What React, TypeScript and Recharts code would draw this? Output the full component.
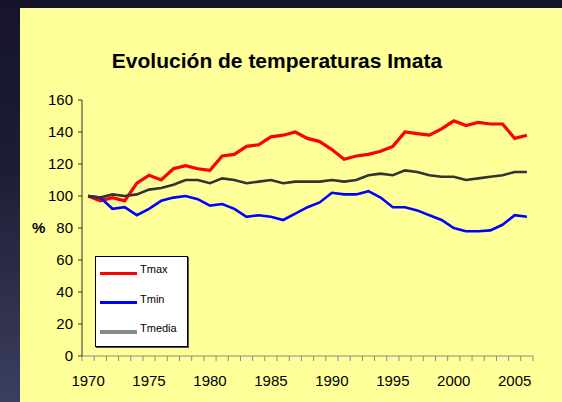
import React from 'react';
import { LineChart, Line, XAxis, YAxis, Legend } from 'recharts';

const years = [
  1970, 1971, 1972, 1973, 1974, 1975, 1976, 1977, 1978, 1979,
  1980, 1981, 1982, 1983, 1984, 1985, 1986, 1987, 1988, 1989,
  1990, 1991, 1992, 1993, 1994, 1995, 1996, 1997, 1998, 1999,
  2000, 2001, 2002, 2003, 2004, 2005, 2006,
];
const tmax = [
  100, 97, 99, 97, 108, 113, 110, 117, 119, 117,
  116, 125, 126, 131, 132, 137, 138, 140, 136, 134,
  129, 123, 125, 126, 128, 131, 140, 139, 138, 142,
  147, 144, 146, 145, 145, 136, 138,
];
const tmin = [
  100, 99, 92, 93, 88, 92, 97, 99, 100, 98,
  94, 95, 92, 87, 88, 87, 85, 89, 93, 96,
  102, 101, 101, 103, 99, 93, 93, 91, 88, 85,
  80, 78, 78, 78.5, 82, 88, 87,
];
const tmedia = [
  100, 99, 101, 100, 101, 104, 105, 107, 110, 110,
  108, 111, 110, 108, 109, 110, 108, 109, 109, 109,
  110, 109, 110, 113, 114, 113, 116, 115, 113, 112,
  112, 110, 111, 112, 113, 115, 115,
];
const yTicks = [0, 20, 40, 60, 80, 100, 120, 140, 160];
const labelYears = [1970, 1975, 1980, 1985, 1990, 1995, 2000, 2005];
const seriesNames = ['Tmax', 'Tmin', 'Tmedia'];
const title = 'Evolución de temperaturas Imata';

const data = years.map((y, i) => ({ year: y, Tmax: tmax[i], Tmin: tmin[i], Tmedia: tmedia[i] }));
const boundaryTicks = [...years.map((y) => y - 0.5), years[years.length - 1] + 0.5];

const legendStyles: Record<string, { color: string; width: number }> = {
  Tmax: { color: '#ff0000', width: 3 },
  Tmin: { color: '#0000ff', width: 3 },
  Tmedia: { color: '#888888', width: 4 },
};

const FONT = '"Liberation Sans", Arial, sans-serif';

const LegendBox = (props: any) => {
  const payload = props.payload || [];
  const ordered = seriesNames
    .map((n) => payload.find((p: any) => p.value === n))
    .filter(Boolean);
  return (
    <div
      style={{
        width: 91,
        height: 89,
        background: '#ffffff',
        border: '1px solid #000',
        boxShadow: '1px 1px 0 #555',
        fontFamily: FONT,
        fontSize: 11,
        color: '#000',
      }}
    >
      {ordered.map((p: any) => {
        const st = legendStyles[p.value] || { color: p.color, width: 3 };
        return (
          <div key={p.value} style={{ height: 29.6, position: 'relative' }}>
            <div
              style={{
                position: 'absolute',
                left: 4,
                top: 15 - st.width / 2 + 1,
                width: 37,
                height: st.width,
                background: st.color,
              }}
            />
            <span style={{ position: 'absolute', left: 44, top: 6, lineHeight: '13px' }}>{p.value}</span>
          </div>
        );
      })}
    </div>
  );
};

const YearTick = (props: any) => {
  const { x, y, payload, width } = props;
  const year = payload.value + 0.5;
  if (!labelYears.includes(year)) return null;
  const half = width / years.length / 2;
  return (
    <text x={x + half} y={y} dy="0.71em" textAnchor="middle" fill="#000" fontSize={15} fontFamily={FONT}>
      {year}
    </text>
  );
};

export default function App() {
  return (
    <div
      style={{
        position: 'absolute',
        left: 0,
        top: 0,
        width: 562,
        height: 402,
        overflow: 'hidden',
        background: 'linear-gradient(to bottom, #15142a 0%, #1c1c34 40%, #3b3e5e 100%)',
        fontFamily: FONT,
      }}
    >
      <div style={{ position: 'absolute', left: 20, top: 8, width: 542, height: 394, background: '#ffff99' }} />
      <div
        style={{
          position: 'absolute',
          left: 77,
          top: 49,
          width: 400,
          textAlign: 'center',
          fontFamily: FONT,
          fontWeight: 'bold',
          fontSize: 21,
          lineHeight: '24px',
          color: '#000',
        }}
      >
        {title}
      </div>
      <div style={{ position: 'absolute', left: 0, top: 0 }}>
        <LineChart
          width={562}
          height={402}
          data={data}
          margin={{ top: 100, right: 29, bottom: 8, left: 0 }}
          style={{ fontFamily: FONT }}
        >
          <XAxis
            dataKey="year"
            type="number"
            domain={[1969.5, 2006.5]}
            ticks={boundaryTicks}
            interval={0}
            height={38}
            tickSize={5}
            tickMargin={14}
            stroke="#888888"
            tickLine={{ stroke: '#888888' }}
            tick={<YearTick />}
          />
          <YAxis
            domain={[0, 160]}
            ticks={yTicks}
            interval={0}
            width={82}
            tickSize={4}
            tickMargin={5}
            stroke="#333333"
            tick={{ fill: '#000', fontSize: 15 }}
            label={{ value: '%', position: 'insideLeft', offset: 32, fill: '#000', fontSize: 15, fontWeight: 'bold' }}
          />
          <Legend
            layout="vertical"
            align="center"
            verticalAlign="middle"
            content={<LegendBox />}
            wrapperStyle={{ left: 95, top: 256, width: 93, height: 91 }}
          />
          <Line type="linear" dataKey="Tmax" name="Tmax" stroke="#ff0000" strokeWidth={3.2} dot={false} isAnimationActive={false} />
          <Line type="linear" dataKey="Tmin" name="Tmin" stroke="#0000ff" strokeWidth={2.6} dot={false} isAnimationActive={false} />
          <Line type="linear" dataKey="Tmedia" name="Tmedia" stroke="#333333" strokeWidth={2.6} dot={false} isAnimationActive={false} />
        </LineChart>
      </div>
    </div>
  );
}
